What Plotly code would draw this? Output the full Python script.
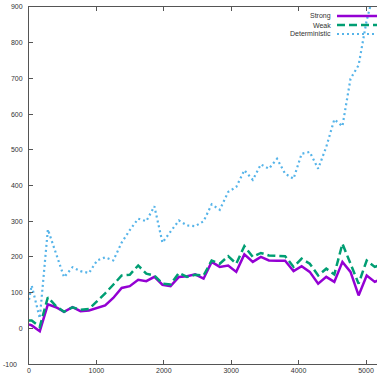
import plotly.graph_objects as go

x_vals = [0, 40, 160, 280, 400, 520, 645, 765, 890, 1010, 1130, 1250, 1375, 1495,
          1620, 1740, 1860, 1980, 2100, 2225, 2345, 2465, 2590, 2710, 2830, 2955,
          3075, 3195, 3320, 3440, 3560, 3680, 3800, 3925, 4045, 4165, 4290, 4410,
          4530, 4650, 4770, 4890, 5010, 5130, 5250]

strong = [11, 8, -8, 67, 59, 46, 59, 48, 50, 58, 64, 85, 113, 118, 136, 132, 144,
          122, 118, 144, 146, 151, 139, 186, 172, 176, 158, 207, 186, 200, 190, 189,
          189, 160, 174, 158, 125, 144, 130, 186, 158, 92, 148, 130, 140]

weak = [22, 22, 4, 87, 62, 46, 59, 52, 54, 75, 98, 122, 148, 150, 176, 153, 148,
        125, 123, 155, 144, 150, 148, 190, 181, 202, 181, 230, 200, 211, 204, 203,
        202, 172, 195, 181, 148, 167, 151, 237, 181, 125, 190, 172, 180]

deterministic = [80, 120, 28, 277, 210, 143, 171, 160, 155, 190, 199, 190, 240, 275,
                 307, 300, 342, 240, 271, 302, 288, 286, 300, 347, 332, 382, 396, 443,
                 416, 459, 447, 475, 433, 419, 489, 494, 447, 508, 585, 566, 699, 737,
                 863, 950, 1000]

series_names = ["Strong", "Weak", "Deterministic"]
colors = ["#9400d3", "#009e73", "#56b4e9"]
dashes = ["solid", "8px,4px", "2px,3px"]
widths = [2.5, 2.5, 2.2]

x_ticks = [0, 1000, 2000, 3000, 4000, 5000]
y_ticks = [0, 100, 200, 300, 400, 500, 600, 700, 800, 900]

W, H = 377, 381
ML, MR, MT, MB = 29, 0, 7, 17

fig = go.Figure()
for name, ys, c, d, w in zip(series_names, [strong, weak, deterministic], colors, dashes, widths):
    fig.add_trace(go.Scatter(x=x_vals, y=ys, mode="lines", name=name,
                             line=dict(color=c, dash=d, width=w), showlegend=False))

font = dict(family="Liberation Sans, Arial, sans-serif", size=7, color="#333333")

fig.update_layout(
    width=W, height=H,
    margin=dict(l=ML, r=MR, t=MT, b=MB, pad=0),
    paper_bgcolor="white", plot_bgcolor="white",
    showlegend=False,
    font=font,
    xaxis=dict(range=[0, 5163], tickvals=x_ticks, ticktext=[str(v) for v in x_ticks],
               ticks="inside", ticklen=4, tickcolor="#555555", tickwidth=1,
               showline=True, linecolor="#555555", linewidth=1, mirror="ticks",
               showgrid=False, zeroline=False, automargin=False, tickfont=font),
    yaxis=dict(range=[-100, 900], tickvals=y_ticks, ticktext=[str(v) for v in y_ticks],
               ticks="inside", ticklen=4, tickcolor="#555555", tickwidth=1,
               showline=True, linecolor="#555555", linewidth=1, mirror=False,
               showgrid=False, zeroline=False, automargin=False, tickfont=font,
               ticklabelstandoff=4),
)

plot_w = W - ML - MR
plot_h = H - MT - MB

# bottom y label, placed at the very left edge as in the original
fig.add_annotation(text="-100", xref="paper", yref="y", x=(1 - ML) / plot_w, y=-100,
                   xanchor="left", yanchor="middle", showarrow=False, font=font)

# gnuplot-style key: right-aligned text, then sample line
key_rows = [16, 25, 34]
for name, c, d, w, py in zip(series_names, colors, dashes, widths, key_rows):
    yp = 1 - (py - MT) / plot_h
    fig.add_annotation(text=name, xref="paper", yref="paper", x=(333 - ML) / plot_w, y=yp,
                       xanchor="right", yanchor="middle", showarrow=False, font=font)
    fig.add_shape(type="line", xref="paper", yref="paper",
                  x0=(337 - ML) / plot_w, x1=(380 - ML) / plot_w, y0=yp, y1=yp,
                  line=dict(color=c, dash=d, width=w))

fig.write_html("out.html")
